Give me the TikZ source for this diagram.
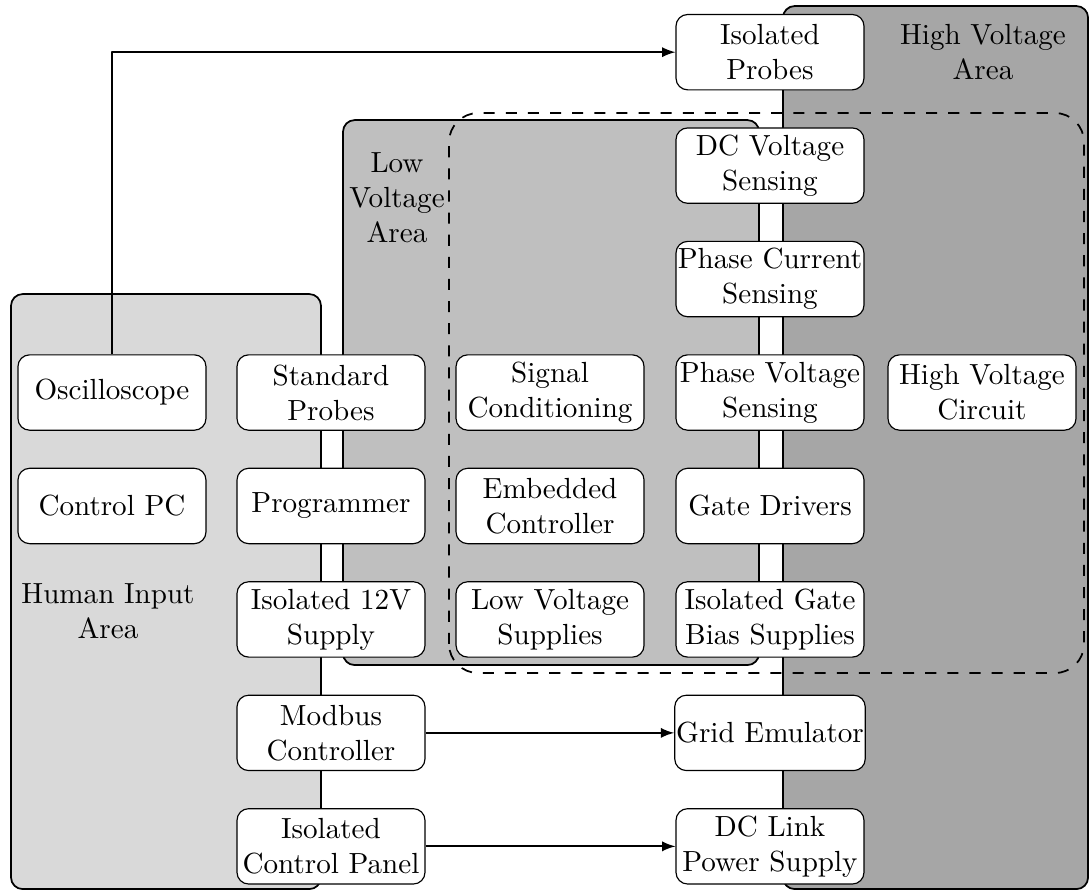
\documentclass[tikz,border=0pt]{standalone}
\usepackage{tikz}
\tikzset{
  blk/.style={draw,fill=white,rounded corners,align=center,minimum width=2.27cm,minimum height=0.91cm,inner sep=0.5pt},
  area/.style={draw,semithick,rounded corners},
}
\begin{document}
\begin{tikzpicture}[>=latex,line join=round]
			%========================
			\useasboundingbox (0,0) rectangle (13.15,10.76);
			% areas
			\draw[area,fill=black!35] (9.455,0.024) rectangle (13.139,10.687);
			\draw[area,fill=black!25] (4.142,2.729) rectangle (9.166,9.31);
			\draw[area,fill=black!15] (0.133,0.024) rectangle (3.876,7.209);
			\draw[semithick,dash pattern=on 3.8pt off 3.8pt,rounded corners=10pt] (5.422,2.633) rectangle (13.09,9.395);
			\node[align=center] (hvlabel) at (11.87,10.13) {High Voltage\\Area};
			\node[align=center] (lvlabel) at (4.794,8.368) {Low\\Voltage\\Area};
			\node[align=center] (hilabel) at (1.304,3.381) {Human Input\\Area};
			% human input column
			\node[blk] (osc) at (1.352,6.02) {Oscilloscope};
			\node[blk] (pc) at (1.352,4.65) {Control PC};
			\node[blk] (stdprobes) at (3.997,6.02) {Standard\\Probes};
			\node[blk] (prog) at (3.997,4.65) {Programmer};
			\node[blk] (sup12) at (3.997,3.28) {Isolated 12V\\Supply};
			\node[blk] (modbus) at (3.997,1.91) {Modbus\\Controller};
			\node[blk] (icp) at (3.997,0.54) {Isolated\\Control Panel};
			% low voltage column
			\node[blk] (sigcond) at (6.642,6.02) {Signal\\Conditioning};
			\node[blk] (embctrl) at (6.642,4.65) {Embedded\\Controller};
			\node[blk] (lvsup) at (6.642,3.28) {Low Voltage\\Supplies};
			% sensing and power column
			\node[blk] (isoprobes) at (9.298,10.13) {Isolated\\Probes};
			\node[blk] (dcvs) at (9.298,8.76) {DC Voltage\\Sensing};
			\node[blk] (pcs) at (9.298,7.39) {Phase Current\\Sensing};
			\node[blk] (pvs) at (9.298,6.02) {Phase Voltage\\Sensing};
			\node[blk] (gd) at (9.298,4.65) {Gate Drivers};
			\node[blk] (gbs) at (9.298,3.28) {Isolated Gate\\Bias Supplies};
			\node[blk] (grid) at (9.298,1.91) {Grid Emulator};
			\node[blk] (dclink) at (9.298,0.54) {DC Link\\Power Supply};
			\node[blk] (hvc) at (11.858,6.02) {High Voltage\\Circuit};
			% connections
			\draw[->,semithick] (osc) |- (isoprobes);
			\draw[->,semithick] (modbus) -- (grid);
			\draw[->,semithick] (icp) -- (dclink);
			%========================
\end{tikzpicture}
\end{document}
